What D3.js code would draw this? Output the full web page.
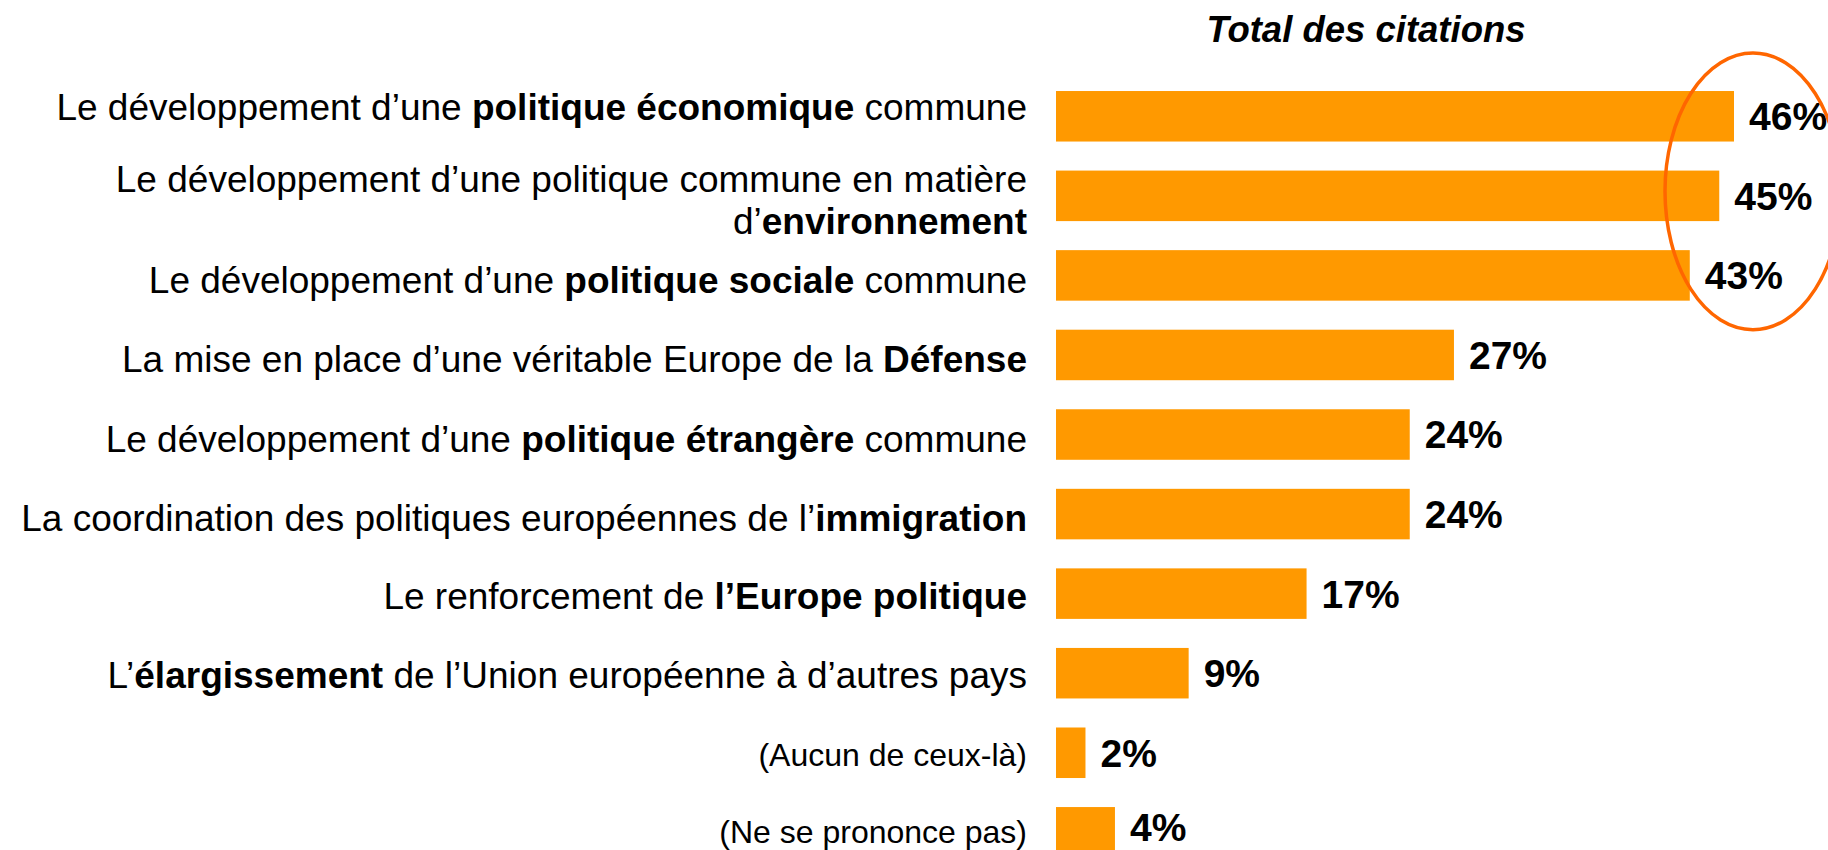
<!DOCTYPE html>
<html>
<head>
<meta charset="utf-8">
<script src="https://cdn.jsdelivr.net/npm/d3@7"></script>
<style>
  html, body { margin: 0; padding: 0; background: #ffffff; }
  svg { display: block; font-family: "Liberation Sans", Arial, Helvetica, sans-serif; }
</style>
</head>
<body>
<svg id="chart" width="1828" height="850"></svg>
<script>
// ---- data ----
const title = "Total des citations";
const categories = [
  "Le développement d’une **politique économique** commune",
  "Le développement d’une politique commune en matière\nd’**environnement**",
  "Le développement d’une **politique sociale** commune",
  "La mise en place d’une véritable Europe de la **Défense**",
  "Le développement d’une **politique étrangère** commune",
  "La coordination des politiques européennes de l’**immigration**",
  "Le renforcement de **l’Europe politique**",
  "L’**élargissement** de l’Union européenne à d’autres pays",
  "(Aucun de ceux-là)",
  "(Ne se prononce pas)"
];
const values = [46, 45, 43, 27, 24, 24, 17, 9, 2, 4];
const circledRows = [0, 1, 2];

(function () {
  // ---- layout ----
  const W = 1828, H = 850;
  const svg = d3.select("#chart");
  const barLeft = 1056;
  const x = d3.scaleLinear().domain([0, 46]).range([barLeft, 1734]);
  const y = d3.scaleBand()
    .domain(d3.range(categories.length))
    .range([76.5, 872.1])
    .paddingInner(0.365)
    .paddingOuter(0.1825);

  const barColor = "#FF9900";
  const ringColor = "#FF6600";
  // keep a text's descenders inside the canvas
  const clampBase = (b, fs) => Math.min(b, H - 0.22 * fs);

  // bars
  svg.append("g").selectAll("rect")
    .data(values)
    .join("rect")
    .attr("x", x(0))
    .attr("y", (d, i) => y(i))
    .attr("width", d => x(d) - x(0))
    .attr("height", y.bandwidth())
    .attr("fill", barColor);

  // value labels
  const valFs = 39;
  svg.append("g").selectAll("text")
    .data(values)
    .join("text")
    .attr("x", d => x(d) + 15)
    .attr("y", (d, i) => clampBase(y(i) + y.bandwidth() / 2 + valFs * 0.358, valFs))
    .attr("font-size", valFs)
    .attr("font-weight", "bold")
    .attr("fill", "#000")
    .text(d => d + "%");

  // category labels (rich text: **bold**, \n line break)
  const labelRight = 1027;
  const lg = svg.append("g");
  categories.forEach((cat, i) => {
    const small = cat.startsWith("(");
    const fs = small ? 32 : 37;
    const lh = 42;
    const lines = cat.split("\n");
    const cy = y(i) + y.bandwidth() / 2;
    const nudge = i === 0 ? -10 : (i < 6 ? 4 : 2);
    lines.forEach((line, k) => {
      const base = clampBase(cy + fs * 0.358 + nudge + (k - (lines.length - 1) / 2) * lh, fs);
      const t = lg.append("text")
        .attr("x", labelRight)
        .attr("y", base)
        .attr("text-anchor", "end")
        .attr("font-size", fs)
        .attr("fill", "#000");
      line.split("**").forEach((seg, j) => {
        if (!seg) return;
        t.append("tspan")
          .attr("font-weight", j % 2 === 1 ? "bold" : "normal")
          .text(seg);
      });
    });
  });

  // title
  svg.append("text")
    .attr("x", (x(0) + x(46)) / 2 - 29)
    .attr("y", 42)
    .attr("text-anchor", "middle")
    .attr("font-size", 36.5)
    .attr("font-weight", "bold")
    .attr("font-style", "italic")
    .attr("fill", "#000")
    .text(title);

  // highlight ellipse around the top rows' value labels
  const ringTop = y(circledRows[0]) - 38;
  const ringBottom = y(circledRows[circledRows.length - 1]) + y.bandwidth() + 29;
  const maxV = d3.max(circledRows, r => values[r]);
  svg.append("ellipse")
    .attr("cx", x(maxV) + 19)
    .attr("cy", (ringTop + ringBottom) / 2)
    .attr("rx", 88)
    .attr("ry", (ringBottom - ringTop) / 2)
    .attr("fill", "none")
    .attr("stroke", ringColor)
    .attr("stroke-width", 3.5);
})();
</script>
</body>
</html>
